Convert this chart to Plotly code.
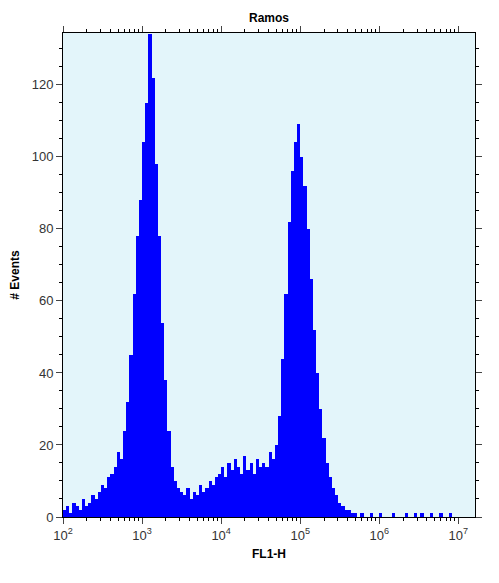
import numpy as np
import plotly.graph_objects as go

# bin centres in decades (log10 of FL1-H)
bin_centers = [round(2.02 + 0.04 * i, 2) for i in range(130)]
counts = [2,3,1,4,3,2,5,3,4,6,
          5,7,9,8,11,12,14,18,16,24,
          32,45,62,78,88,104,115,134,122,98,
          78,54,38,24,14,10,8,7,6,8,
          5,7,6,9,7,8,10,9,11,12,
          14,11,15,13,16,14,12,17,13,15,
          12,16,14,15,14,18,16,20,28,44,
          62,82,96,104,109,100,92,80,66,52,
          40,30,22,15,11,8,6,4,3,2,
          2,1,1,0,1,0,0,1,0,0,
          1,0,0,0,1,0,0,0,1,0,
          0,1,0,1,0,0,1,0,0,1,
          0,0,1,0,0,0,0,0,0,0]
tick_vals = [2, 3, 4, 5, 6, 7]
tick_text = ["10<sup>%d</sup>" % v for v in tick_vals]
minor_vals = [d + np.log10(k) for d in range(2, 8) for k in range(2, 10)]

fig = go.Figure(go.Bar(x=bin_centers, y=counts, width=0.04,
                       marker=dict(color="#0000ff", line=dict(width=0))))
fig.update_layout(
    width=491, height=575,
    margin=dict(l=55, r=24, t=25, b=66, autoexpand=False),
    paper_bgcolor="white", plot_bgcolor="#e3f5fa",
    bargap=0, showlegend=False,
    title=dict(text="<b>Ramos</b>", x=0.5, xref="paper", y=0.99, yanchor="top",
               font=dict(family="Arial", size=12, color="black"), automargin=False),
    font=dict(family="Arial", size=13, color="#333"),
)
fig.update_xaxes(range=[2.0, 7.21], tickvals=tick_vals, ticktext=tick_text,
                 ticks="outside", ticklen=6, showgrid=False, zeroline=False, automargin=False,
                 showline=True, linecolor="black", mirror="ticks",
                 minor=dict(tickvals=minor_vals, ticks="outside", ticklen=3, tickcolor="black"),
                 title=dict(text="<b>FL1-H</b>", font=dict(size=12, color="black"), standoff=8))
fig.update_yaxes(range=[0, 134.4], dtick=20, ticks="outside", ticklen=6, automargin=False,
                 showgrid=False, zeroline=False, showline=True, linecolor="black",
                 mirror="ticks", minor=dict(dtick=5, ticks="outside", ticklen=3, tickcolor="black"),
                 title=dict(text="<b># Events</b>", font=dict(size=12, color="black"), standoff=10))
fig.write_html("out.html")
